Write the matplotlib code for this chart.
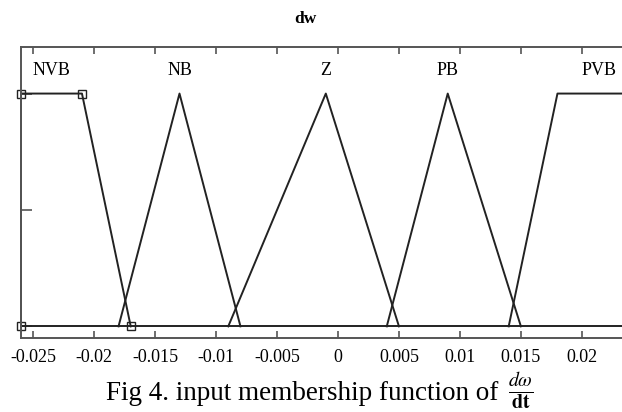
import numpy as np
import matplotlib.pyplot as plt

plt.rcParams['font.family'] = ['Liberation Serif', 'DejaVu Serif']
plt.rcParams['mathtext.fontset'] = 'stix'

# input range and membership functions (MATLAB style params)
x_range = [-0.026, 0.026]
mf_names = ['NVB', 'NB', 'Z', 'PB', 'PVB']
mf_types = ['trap', 'tri', 'tri', 'tri', 'trap']
mf_params = [
    [-0.026, -0.026, -0.021, -0.017],
    [-0.018, -0.013, -0.008],
    [-0.009, -0.001, 0.005],
    [0.004, 0.009, 0.015],
    [0.014, 0.018, 0.026, 0.026],
]
xticks = [-0.025, -0.02, -0.015, -0.01, -0.005, 0, 0.005, 0.01, 0.015, 0.02]
xticklabels = ['-0.025', '-0.02', '-0.015', '-0.01', '-0.005', '0', '0.005', '0.01', '0.015', '0.02']

line_c = '#222222'
frame_c = '#555555'

fig = plt.figure(figsize=(6.22, 4.12), dpi=100)
ax = fig.add_axes([21/622, 74/412, (655-21)/622, (338-47)/412])

for name, kind, p in zip(mf_names, mf_types, mf_params):
    if kind == 'tri':
        xs = [p[0], p[1], p[2]]
        ys = [0, 1, 0]
        cx = p[1]
    else:
        xs = [p[0], p[1], p[2], p[3]]
        ys = [0, 1, 1, 0]
        cx = (p[1] + p[2]) / 2
    # keep the end labels inside the visible part
    cx = np.clip(cx, -0.0238, 0.0214)
    ax.plot(xs, ys, color=line_c, lw=1.4, clip_on=False)
    if name == 'NVB':
        # selected MF shows its vertices
        ax.plot(xs, ys, ls='none', marker='s', ms=6, mfc='none', mec=line_c, mew=1.0, clip_on=False)
    ax.text(cx, 1.1, name, ha='center', va='center', fontsize=13, color='black')

ax.axhline(0, color=line_c, lw=1.4)

ax.set_xlim(x_range)
ax.set_ylim(-0.05, 1.2)
ax.set_xticks(xticks)
ax.set_xticklabels(xticklabels)
ax.set_yticks([0, 0.5, 1])
ax.set_yticklabels([])
ax.tick_params(axis='x', direction='in', top=True, length=5, width=1.2, color=frame_c,
               labelsize=13, pad=8)
ax.tick_params(axis='y', direction='in', length=8, width=1.2, color=frame_c)
for s in ['left', 'top', 'bottom']:
    ax.spines[s].set_color(frame_c)
    ax.spines[s].set_linewidth(1.4)
ax.spines['right'].set_visible(False)

fig.text(305/622, 1 - 19/412, 'dw', ha='center', va='center', fontsize=12.5, fontweight='bold')
fig.text(302/622, 12/412, 'Fig 4. input membership function of', ha='center', va='baseline',
         fontsize=19.5)
fig.text(521/622, 1/412, r'$\frac{d\omega}{\mathbf{dt}}$', ha='center', va='bottom',
         fontsize=20.5)

fig.savefig('out.png', dpi=100)
